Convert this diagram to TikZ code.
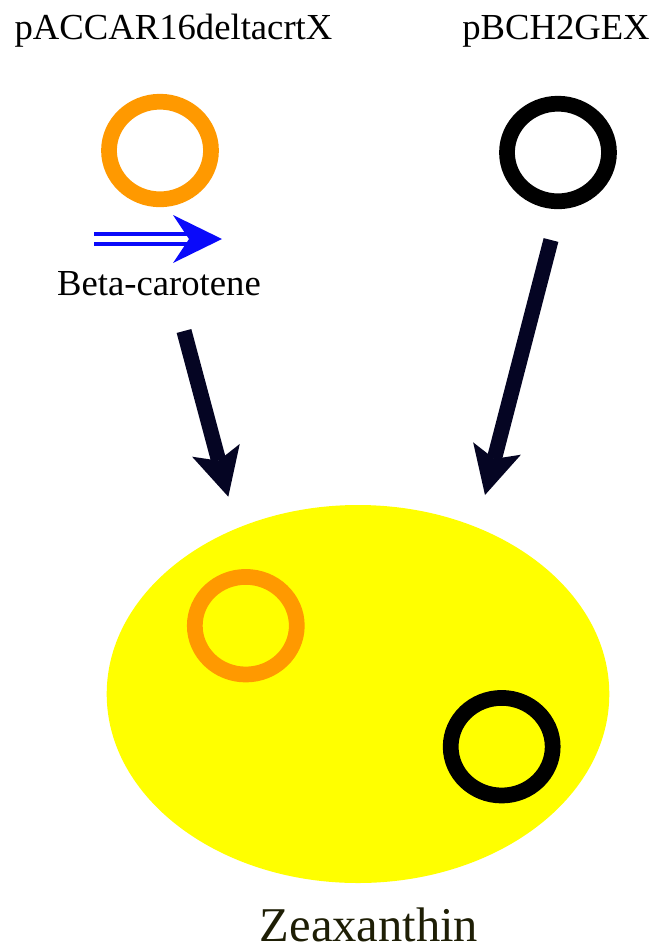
\documentclass[tikz,border=0pt]{standalone}
\usepackage{fontspec}
\setmainfont{Liberation Serif}
\usetikzlibrary{arrows.meta,shapes.geometric}
\definecolor{ringorange}{RGB}{255,153,0}
\definecolor{arrowink}{RGB}{5,5,35}
\definecolor{cellyellow}{RGB}{255,255,0}
\definecolor{labelink}{RGB}{30,30,5}
\definecolor{pathblue}{RGB}{10,10,250}
\begin{document}
\begin{tikzpicture}[x=0.75pt,y=-0.75pt,
  plasmid/.style={ellipse, draw, line width=11.8pt, minimum width=76.5pt,
    minimum height=73.2pt, inner sep=0pt},
  plasmidname/.style={font=\fontsize{27.5}{30}\selectfont, anchor=base, inner sep=0pt},
  bigarrow/.style={draw=arrowink, line width=11.4pt,
    -{Stealth[length=36pt,width=37pt,inset=8pt,line width=0pt]}},
  blueshaft/.style={draw=pathblue, line width=3.4pt},
  bluehead/.style={draw=pathblue, line width=0.1pt,
    -{Stealth[length=36.75pt,width=36pt,inset=12pt,line width=0pt]}}]
\useasboundingbox (0,0) rectangle (654,951);

% plasmid names
\node[plasmidname] (nameA) at (173.5,39) {pACCAR16deltacrtX};
\node[plasmidname] (nameB) at (556,39) {pBCH2GEX};

% free plasmids
\node[plasmid, draw=ringorange] (ringA) at (160,150.5) {};
\node[plasmid, draw=black] (ringB) at (558,152.5) {};

% pathway symbol and product label
\coordinate (bs) at (94,239);
\coordinate (be) at (222,239);
\draw[blueshaft] ([yshift=3.75pt]bs) -- ([yshift=3.75pt,xshift=-22pt]be);
\draw[blueshaft] ([yshift=-3.75pt]bs) -- ([yshift=-3.75pt,xshift=-22pt]be);
\draw[bluehead] ([xshift=-20pt]be) -- (be);
\node[plasmidname] (beta) at (159,295) {Beta-carotene};

% host cell with both plasmids
\node[ellipse, fill=cellyellow, minimum width=376.95pt, minimum height=283.5pt,
  inner sep=0pt] (cell) at (358,694) {};
\node[plasmid, draw=ringorange] (cellA) at (245.8,625.7) {};
\node[plasmid, draw=black] (cellB) at (501.7,746.7) {};
\node[font=\fontsize{36.4}{40}\selectfont, text=labelink, anchor=base,
  text depth=0pt, inner sep=0pt] (product) at (369,941) {Zeaxanthin};

% transformation arrows
\coordinate (a1s) at (184,331);
\coordinate (a1e) at (228.3,496.7);
\coordinate (a2s) at (551,240);
\coordinate (a2e) at (485,495);
\draw[bigarrow] (a1s) -- (a1e);
\draw[bigarrow] (a2s) -- (a2e);
\end{tikzpicture}
\end{document}
